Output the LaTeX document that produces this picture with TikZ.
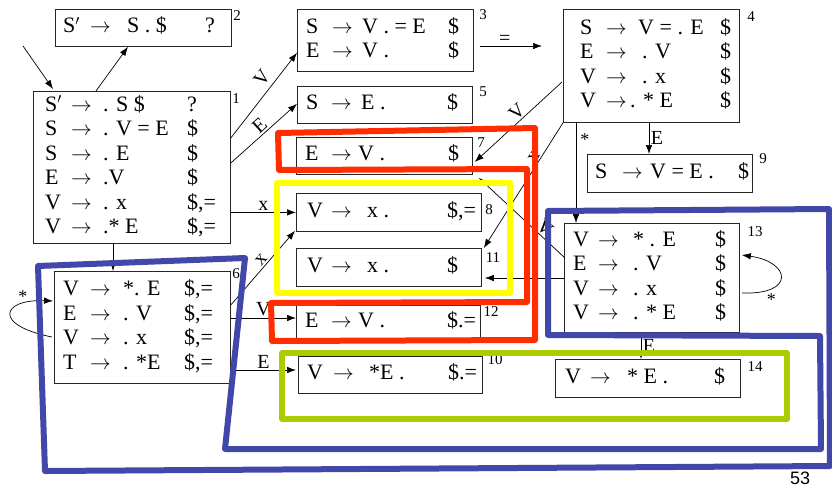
\documentclass[tikz,border=0pt]{standalone}
\usepackage{fontspec}
\setmainfont{Liberation Serif}
\newfontfamily\sansf{Liberation Sans}
\usetikzlibrary{arrows.meta,calc}
\newcommand\ra{$\rightarrow$}
\newenvironment{gram}[3]{\begin{tabular}{@{}p{#1}@{}p{#2}@{}p{#3}@{}l@{}}}{\end{tabular}}
\definecolor{redh}{RGB}{255,45,0}
\definecolor{yelh}{RGB}{255,255,0}
\definecolor{grnh}{RGB}{168,206,0}
\definecolor{bluh}{RGB}{66,72,170}
\begin{document}
\begin{tikzpicture}[x=1pt,y=-1pt,
  box/.style={draw=black!85, line width=0.8pt, inner sep=0pt, anchor=north west, fill=white},
  tx/.style={inner sep=0pt, anchor=west, font=\fontsize{22}{24.5}\selectfont},
  num/.style={inner sep=0pt, font=\fontsize{15}{15}\selectfont},
  ed/.style={-{Latex[length=9pt,width=6.5pt]}, line width=0.7pt},
  lab/.style={font=\fontsize{20}{20}\selectfont, inner sep=1.5pt},
  starl/.style={font=\fontsize{18}{18}\selectfont, inner sep=1pt},
  hl/.style={line width=6pt, line join=round}]
\useasboundingbox (0,0) rectangle (832,488);

% boxes
\node[box, minimum width=197pt, minimum height=152pt] (s1) at (33,91) {};
\node[box, minimum width=176pt, minimum height=37pt] (s2) at (55,9) {};
\node[box, minimum width=176pt, minimum height=62pt] (s3) at (297,9) {};
\node[box, minimum width=175pt, minimum height=37pt] (s5) at (297,86) {};
\node[box, minimum width=176pt, minimum height=113pt] (s4) at (563,9) {};
\node[box, minimum width=165pt, minimum height=38pt] (s9) at (587,154) {};
\node[box, minimum width=176pt, minimum height=37pt] (s7) at (296,137) {};
\node[box, minimum width=185pt, minimum height=38pt] (s8) at (296,193) {};
\node[box, minimum width=185pt, minimum height=38pt] (s11) at (296,248) {};
\node[box, minimum width=184pt, minimum height=34pt] (s12) at (296,305) {};
\node[box, minimum width=184pt, minimum height=37pt] (s10) at (298,356) {};
\node[box, minimum width=185pt, minimum height=38pt] (s14) at (555,359) {};
\node[box, minimum width=176pt, minimum height=112pt] (s6) at (54,271) {};
\node[box, minimum width=175pt, minimum height=109pt] (s13) at (564,223) {};

% box texts
\node[tx] (t1) at ($(s1.west)+(12,0)$) {\begin{gram}{26pt}{32pt}{84pt}
S$'$ & \ra & . S \$ & ?\\
S & \ra & . V = E & \$\\
S & \ra & . E & \$\\
E & \ra & .V & \$\\
V & \ra & . x & \$,=\\
V & \ra & .* E & \$,=
\end{gram}};
\node[tx] (t2) at ($(s2.west)+(8,0)$) {\begin{gram}{27pt}{37pt}{78pt}
S$'$ & \ra & S . \$ & ?
\end{gram}};
\node[tx] (t3) at ($(s3.west)+(9,0)$) {\begin{gram}{26pt}{30pt}{86pt}
S & \ra & V . = E & \$\\
E & \ra & V . & \$
\end{gram}};
\node[tx] (t5) at ($(s5.west)+(9,0)$) {\begin{gram}{25pt}{30pt}{86pt}
S & \ra & E . & \$
\end{gram}};
\node[tx] (t4) at ($(s4.west)+(17,0)$) {\begin{gram}{26pt}{32pt}{82pt}
S & \ra & V = . E & \$\\
E & \ra & \hspace{4pt}. V & \$\\
V & \ra & \hspace{4pt}. x & \$\\
V & \ra & \hspace{-8pt}. * E & \$
\end{gram}};
\node[tx] (t9) at ($(s9.west)+(8,0)$) {\begin{gram}{27pt}{28pt}{88pt}
S & \ra & V = E . & \$
\end{gram}};
\node[tx] (t7) at ($(s7.west)+(9,0)$) {\begin{gram}{26pt}{27pt}{90pt}
E & \ra & V . & \$
\end{gram}};
\node[tx] (t8) at ($(s8.west)+(11,0)$) {\begin{gram}{24pt}{36pt}{80pt}
V & \ra & x . & \$,=
\end{gram}};
\node[tx] (t11) at ($(s11.west)+(11,0)$) {\begin{gram}{24pt}{36pt}{80pt}
V & \ra & x . & \$
\end{gram}};
\node[tx] (t12) at ($(s12.west)+(9,0)$) {\begin{gram}{26pt}{27pt}{89pt}
E & \ra & V . & \$.=
\end{gram}};
\node[tx] (t10) at ($(s10.west)+(9,0)$) {\begin{gram}{26pt}{36pt}{79pt}
V & \ra & *E . & \$.=
\end{gram}};
\node[tx] (t14) at ($(s14.west)+(10,0)$) {\begin{gram}{25pt}{37pt}{87pt}
V & \ra & * E . & \$
\end{gram}};
\node[tx] (t6) at ($(s6.west)+(9,0)$) {\begin{gram}{27pt}{33pt}{61pt}
V & \ra & *. E & \$,=\\
E & \ra & . V & \$,=\\
V & \ra & . x & \$,=\\
T & \ra & . *E & \$,=
\end{gram}};
\node[tx] (t13) at ($(s13.west)+(9,0)$) {\begin{gram}{25pt}{35pt}{82pt}
V & \ra & * . E & \$\\
E & \ra & . V & \$\\
V & \ra & . x & \$\\
V & \ra & . * E & \$
\end{gram}};

% state numbers
\node[num] (n1) at (236,99) {1};
\node[num] (n2) at (237,16) {2};
\node[num] (n3) at (483,15) {3};
\node[num] (n5) at (483,92) {5};
\node[num] (n4) at (751,17) {4};
\node[num] (n9) at (763,159) {9};
\node[num] (n7) at (481,143) {7};
\node[num] (n8) at (489,210) {8};
\node[num] (n11) at (493,258) {11};
\node[num] (n12) at (491,312) {12};
\node[num] (n10) at (495,360) {10};
\node[num] (n14) at (755,367) {14};
\node[num] (n6) at (236,274) {6};
\node[num] (n13) at (755,232) {13};

% connectors
\coordinate (st0) at (23,46);
\draw[ed] (st0) -- ($(s1.north west)+(20,-2)$);
\draw[ed] ($(s1.north west)+(63,0)$) -- ($(s2.south west)+(73,0)$);
\draw[ed] ($(s1.north east)+(0,47)$) -- node[lab, pos=0.62, sloped, above=4pt]{V} ($(s3.south west)+(0,-19)$);
\draw[ed] ($(s1.north east)+(0,72)$) -- node[lab, pos=0.52, sloped, above]{E} ($(s5.south west)+(0,-20)$);
\draw[ed] (s1.east |- s8.west) -- node[lab, above]{x} (s8.west);
\draw[ed] ($(s1.south west)+(80,0)$) -- ($(s6.north west)+(59,0)$);
\draw[ed] ($(s3.north east)+(6,37)$) -- node[lab, above, pos=0.4]{=} ($(s4.north west)+(-21,37)$);
\draw[ed] ($(s4.north west)+(-1,73)$) -- node[lab, pos=0.45, sloped, above]{V} ($(s7.north east)+(2,25)$);
\draw[ed] (s4.south west) -- node[lab, pos=0.3, sloped, above]{x} ($(s11.north east)+(2,0)$);
\draw[ed] ($(s4.south west)+(13,0)$) -- node[starl, pos=0.17, right=3pt]{*} ($(s13.north west)+(12,0)$);
\draw[ed] ($(s4.south west)+(86,0)$) -- node[lab, midway, right]{E} ($(s9.north west)+(62,0)$);
\draw[ed] ($(s13.north west)+(1,35)$) -- node[lab, pos=0.3, sloped, above]{V} ($(s7.south east)+(6,3)$);
\draw[ed] ($(s13.north west)+(0,55)$) -- ($(s11.north east)+(3,30)$);
\draw[ed] ($(s13.south west)+(77,0)$) -- node[lab, midway, right]{E} ($(s14.north west)+(86,0)$);
\draw[ed] ($(s13.north east)+(2,70)$) .. controls ($(s13.north east)+(56,72)$) and ($(s13.north east)+(51,39)$) .. node[starl, pos=0.25, below=3pt]{*} ($(s13.north east)+(2,32)$);
\draw[ed] ($(s6.north west)+(-2,66)$) .. controls ($(s6.north west)+(-62,54)$) and ($(s6.north west)+(-52,28)$) .. node[starl, pos=0.75, above]{*} ($(s6.north west)+(-1,30)$);
\draw[ed] ($(s6.north east)+(0,34)$) -- node[lab, pos=0.55, sloped, above]{x} ($(s8.south west)+(-1,-1)$);
\draw[ed] ($(s6.north east)+(0,47)$) -- node[lab, above]{V} ($(s12.north west)+(0,13)$);
\draw[ed] ($(s6.north east)+(0,99)$) -- node[lab, above]{E} ($(s10.north west)+(-2,14)$);

% highlight outlines
\draw[hl, draw=redh] (278,133) -- (535,128) -- (535,340) -- (272,341) -- (271,303) -- (527,302) -- (527,169) -- (279,170) -- cycle;
\draw[hl, line width=5.5pt, draw=yelh] (277,183) rectangle (510,293);
\draw[hl, line width=5.5pt, draw=grnh] (282,353) rectangle (787,419);
\draw[hl, draw=bluh] (38,266) -- (245,258) -- (225,449) -- (821,449) -- (820,336) -- (548,335) -- (548,211) -- (829,209) -- (830,466) -- (45,471) -- cycle;

\node[font=\sansf\fontsize{18}{18}\selectfont, inner sep=0pt] (pg) at (800,478) {53};
\end{tikzpicture}
\end{document}
